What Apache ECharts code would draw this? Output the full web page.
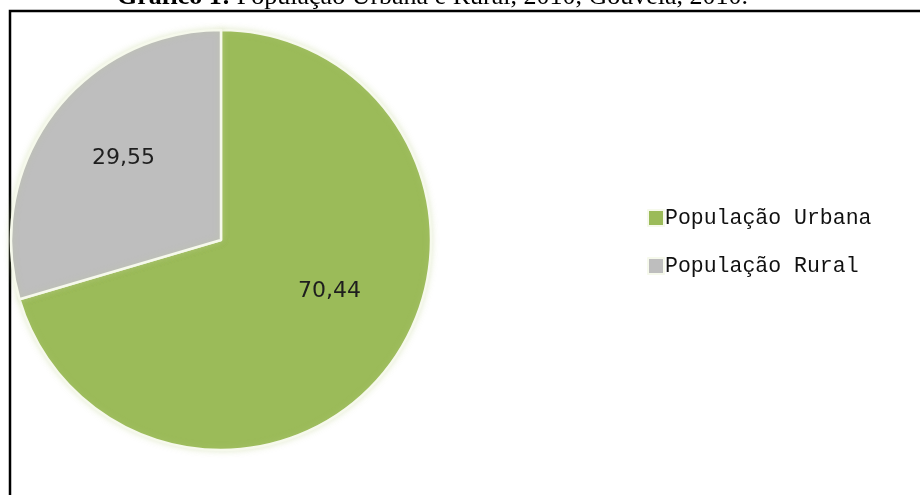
<!DOCTYPE html>
<html>
<head>
<meta charset="utf-8">
<script src="https://cdn.jsdelivr.net/npm/echarts@6/dist/echarts.min.js"></script>
<style>
  html, body { margin: 0; padding: 0; background: #ffffff; }
  #chart { width: 920px; height: 495px; }
</style>
</head>
<body>
<div id="chart"></div>
<script>
// População urbana e rural (%), Gouveia, 2010
const categories = ['População Urbana', 'População Rural'];
const values = [70.44, 29.55];
const valueLabels = ['70,44', '29,55'];
const colors = ['#9bbb59', '#bebebe'];
// per-slice nudge of the value labels inside the slices
const labelOffsets = [[22, -13], [-11, -17]];

const chart = echarts.init(document.getElementById('chart'), null, { renderer: 'canvas' });

const pieData = categories.map((name, i) => ({
  name: name,
  value: values[i],
  itemStyle: { color: colors[i] },
  label: { offset: labelOffsets[i], formatter: valueLabels[i] }
}));

chart.setOption({
  backgroundColor: '#ffffff',
  animation: false,
  graphic: [
    {
      type: 'text',
      left: 117,
      top: -16,
      style: {
        text: '{b|Gráfico 1:} População Urbana e Rural, 2010, Gouveia, 2010.',
        font: '26px "Liberation Serif"',
        fill: '#000',
        rich: {
          b: { fontWeight: 'bold', fontSize: 26, fontFamily: 'Liberation Serif', fill: '#000' }
        }
      }
    },
    {
      type: 'polyline',
      shape: { points: [[10, 495], [10, 11], [920, 11]] },
      style: { stroke: '#000', lineWidth: 2.5, fill: null }
    }
  ],
  legend: {
    orient: 'vertical',
    left: 647,
    top: 207,
    padding: 0,
    itemWidth: 16,
    itemHeight: 16,
    itemGap: 26,
    icon: 'rect',
    textStyle: {
      fontFamily: 'Liberation Mono',
      fontSize: 21.5,
      lineHeight: 20,
      color: '#111',
      padding: [0, 0, 0, -4]
    },
    data: categories
  },
  series: [
    {
      type: 'pie',
      center: [221, 240],
      radius: 210,
      startAngle: 90,
      clockwise: true,
      avoidLabelOverlap: false,
      itemStyle: {
        borderColor: '#f6f9ec',
        borderWidth: 2.5,
        shadowBlur: 6,
        shadowColor: 'rgba(190, 205, 140, 0.35)'
      },
      label: {
        show: true,
        position: 'inside',
        fontFamily: 'DejaVu Sans',
        fontSize: 22,
        color: '#1e1e1e'
      },
      labelLine: { show: false },
      emphasis: { disabled: true },
      data: pieData
    }
  ]
});
</script>
</body>
</html>
